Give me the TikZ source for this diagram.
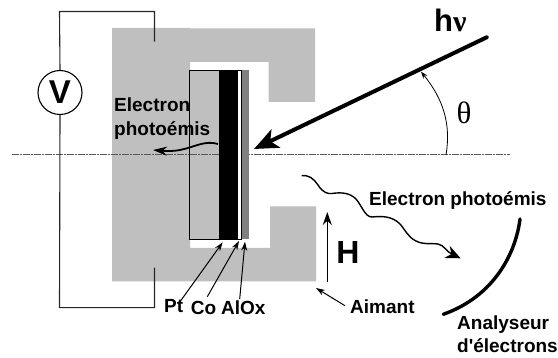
\documentclass[tikz,border=0pt]{standalone}
\usepackage{fontspec}
\setmainfont{Liberation Sans}
\newfontfamily\serifgreek{Liberation Serif}
\usetikzlibrary{arrows.meta}
\definecolor{magnet}{gray}{0.75}
\definecolor{aloxc}{gray}{0.5}
\tikzset{
  lbl/.style={anchor=base west,inner sep=0pt,font=\fontsize{#1}{#1}\selectfont\bfseries},
  lbl/.default=19,
  wire/.style={line width=1.1pt,black!85},
  thinarrow/.style={line width=1pt,-{Stealth[length=9pt,width=6pt]}},
  axis/.style={line width=1pt,black!65,dash pattern=on 7pt off 1pt on 2pt off 1pt},
}
\begin{document}
\begin{tikzpicture}[x=1pt,y=-1pt]
\useasboundingbox (0,0) rectangle (558,358);
% magnet
\fill[magnet] (112,28) -- (190,28) -- (190,28.5) -- (315,28.5) -- (315,102) -- (268.5,102) -- (268.5,62) -- (190,62)
  -- (190,248) -- (270,248) -- (270,206.5) -- (316,206.5) -- (316,281.5) -- (112,281.5) -- cycle;
% axis
\coordinate (axL) at (12,154.7);
\coordinate (axR) at (510,154.7);
\draw[axis] (axL) -- (axR);
% sample
\fill[white] (238,70.3) rectangle (241.7,239.3);
\fill[aloxc] (241.7,70.3) rectangle (248.7,239.3);
\fill[magnet] (190,70.3) rectangle (219.3,239.3);
\draw[axis] (190,154.7) -- (219.3,154.7);
\fill[black] (219.3,70.3) rectangle (238,239.3);
\draw[line width=1pt] (238,70.3) -- (189.7,70.3) -- (189.7,239.3) -- (241.7,239.3) -- (241.7,70.3) -- cycle;
% circuit
\node[circle,draw,line width=1.1pt,minimum size=44pt,inner sep=0pt,font=\fontsize{33}{33}\selectfont\bfseries] (V) at (60,92.5) {V};
\coordinate (wt) at (154.5,41.7);
\coordinate (wb) at (154.5,267.7);
\draw[wire] (V.north) -- (59.5,11.5) -| (wt);
\draw[wire] (V.south) -- (59.5,307.7) -| (wb);
% h nu
\coordinate (hvS) at (486.7,37.3);
\coordinate (hvT) at (254,149);
\draw[line width=4pt,line cap=round,-{Stealth[length=24pt,width=20pt,inset=6pt]}] (hvS) -- (hvT);
\node[anchor=base west,inner sep=0pt] (hv) at (434,31.5) {\fontsize{31}{31}\selectfont\bfseries h\serifgreek\fontsize{30}{30}\selectfont ν};
% angle
\coordinate (angS) at (446,155);
\coordinate (angT) at (421,71.7);
\draw[line width=0.8pt,-{Stealth[length=7pt,width=5pt]}] (angS) .. controls (451,125) and (444,100) .. (angT);
\node[anchor=center,inner sep=0pt,font=\fontsize{31}{31}\selectfont\serifgreek] (theta) at (464,113) {θ};
% left electron
\node[lbl] (el1) at (114,112) {Electron};
\node[lbl] (el2) at (114,136) {photoémis};
\coordinate (e1S) at (218,144);
\coordinate (e1T) at (153,150);
\draw[line width=1.8pt,-{Stealth[length=14pt,width=9pt]}] (e1S) .. controls (205,140) and (195,147) .. (180,150) .. controls (172,151.5) and (165,151) .. (e1T);
% wavy right electron
\coordinate (e2S) at (301.7,175.7);
\coordinate (e2T) at (460.7,258.3);
\draw[line width=1.4pt,-{Stealth[length=15pt,width=13pt]}] (e2S) .. controls (309,175) and (313,178) .. (318,185)
  .. controls (323,193) and (328,194) .. (332,193.5) .. controls (342,192) and (350,193) .. (356,199)
  .. controls (362,206) and (365,217) .. (372,217) .. controls (382,216) and (392,216) .. (400,224)
  .. controls (406,231) and (408,237) .. (416,241) .. controls (424,245) and (430,243) .. (438,244)
  .. controls (444,245) and (447,252) .. (e2T);
\node[lbl] (e2) at (369,206) {Electron photoémis};
% analyser
\coordinate (anA) at (520,219);
\coordinate (anB) at (443.3,314.3);
\draw[line width=3.4pt,line cap=round] (anA) .. controls (516,252) and (495,296) .. (anB);
\node[lbl] (an1) at (457,330) {Analyseur};
\node[lbl] (an2) at (457,353) {d\textquotesingle électrons};
% H
\coordinate (hS) at (327.3,282);
\coordinate (hT) at (327.3,212);
\draw[line width=1.6pt,-{Stealth[length=13pt,width=9pt]}] (hS) -- (hT);
\node[anchor=center,inner sep=0pt,font=\fontsize{32}{32}\selectfont\bfseries] (H) at (348,252) {H};
% Aimant
\node[lbl] (aim) at (350,314) {Aimant};
\coordinate (aimT) at (316,288);
\coordinate (aimS) at (345,305.7);
\draw[thinarrow] (aimS) -- (aimT);
% layers
\node[lbl] (pt) at (164,312.7) {Pt};
\node[lbl] (co) at (190.7,315) {Co};
\node[lbl] (al) at (221,315) {AlOx};
\coordinate (ptS) at (179.3,302.7);
\coordinate (ptT) at (222.7,242.3);
\coordinate (coS) at (207.3,296.7);
\coordinate (coT) at (239,241);
\coordinate (alS) at (239.7,299);
\coordinate (alT) at (245,241.7);
\draw[thinarrow] (ptS) -- (ptT);
\draw[thinarrow] (coS) -- (coT);
\draw[thinarrow] (alS) -- (alT);
\end{tikzpicture}
\end{document}
